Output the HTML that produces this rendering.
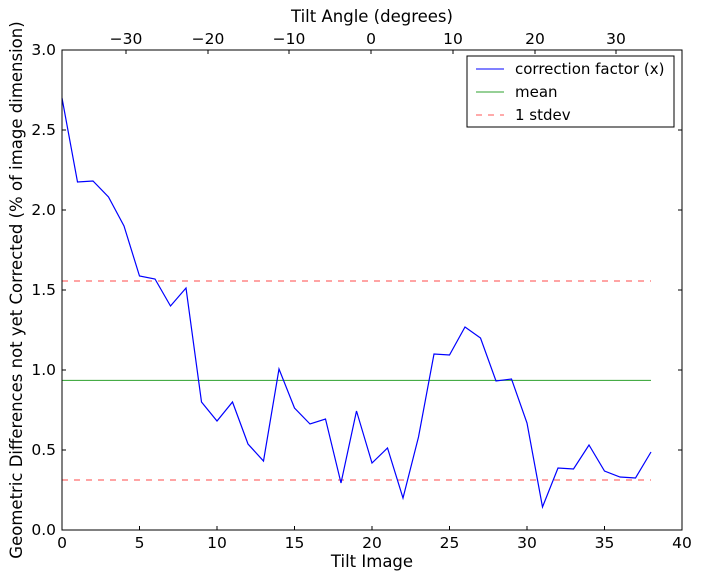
<!DOCTYPE html>
<html><head><style>body{margin:0;background:#fff}svg{display:block}text{font-family:"DejaVu Sans","Liberation Sans",sans-serif;fill:#000}</style></head>
<body>
<svg width="701" height="579" xmlns="http://www.w3.org/2000/svg">
<rect width="701" height="579" fill="#fff"/>
<g font-size="15.5">
<g text-anchor="end">
<text x="56" y="535">0.0</text><text x="56" y="455">0.5</text><text x="56" y="375">1.0</text>
<text x="56" y="295">1.5</text><text x="56" y="215">2.0</text><text x="56" y="135">2.5</text><text x="56" y="55">3.0</text>
</g>
<g text-anchor="middle">
<text x="62" y="548">0</text><text x="139.5" y="548">5</text><text x="217" y="548">10</text><text x="294.5" y="548">15</text>
<text x="372" y="548">20</text><text x="449.5" y="548">25</text><text x="527" y="548">30</text><text x="604.5" y="548">35</text><text x="682" y="548">40</text>
<text x="126" y="44">−30</text><text x="208" y="44">−20</text><text x="289" y="44">−10</text><text x="371" y="44">0</text>
<text x="453" y="44">10</text><text x="535" y="44">20</text><text x="616" y="44">30</text>
</g>
</g>
<g font-size="16.5" text-anchor="middle">
<text x="372" y="567">Tilt Image</text>
<text x="372" y="22">Tilt Angle (degrees)</text>
<text transform="translate(22,290) rotate(-90)">Geometric Differences not yet Corrected (% of image dimension)</text>
</g>
<g stroke="#000" stroke-width="1">
<path d="M62 450h4M62 370h4M62 290h4M62 210h4M62 130h4M682 450h-4M682 370h-4M682 290h-4M682 210h-4M682 130h-4"/>
<path d="M139.5 530v-4M217 530v-4M294.5 530v-4M372 530v-4M449.5 530v-4M527 530v-4M604.5 530v-4"/>
<path d="M126 50v4M208 50v4M289 50v4M371 50v4M453 50v4M535 50v4M616 50v4"/>
</g>
<line x1="62" y1="380.4" x2="651" y2="380.4" stroke="#2ca02c" stroke-width="1"/>
<line x1="62" y1="281" x2="651" y2="281" stroke="#f55" stroke-width="1.2" stroke-dasharray="6,6" opacity="0.85"/>
<line x1="62" y1="480" x2="651" y2="480" stroke="#f55" stroke-width="1.2" stroke-dasharray="6,6" opacity="0.85"/>
<polyline fill="none" stroke="#00f" stroke-width="1.2" points="62,98 77.5,182 93,181 108.5,197 124,226 139.5,276 155,279 170.5,306 186,288 201.5,402 217,421 232.5,402 248,444 263.5,461 279,369 294.5,408 310,424 325.5,419 341,483 356.5,411 372,463 387.5,448 403,498 418.5,437 434,354 449.5,355 465,327 480.5,338 496,381 511.5,379 527,423 542.5,507 558,468 573.5,469 589,445 604.5,471 620,477 635.5,478 651,452"/>
<rect x="62" y="50" width="620" height="480" fill="none" stroke="#000" stroke-width="1"/>
<rect x="467" y="56" width="207" height="71" fill="#fff" stroke="#000" stroke-width="1"/>
<line x1="476" y1="69" x2="504" y2="69" stroke="#00f"/>
<line x1="476" y1="92" x2="504" y2="92" stroke="#2ca02c"/>
<line x1="476" y1="115" x2="504" y2="115" stroke="#f55" stroke-dasharray="6,6"/>
<g font-size="15"><text x="515" y="74">correction factor (x)</text><text x="515" y="97">mean</text><text x="515" y="120">1 stdev</text></g>
</svg>
</body></html>
